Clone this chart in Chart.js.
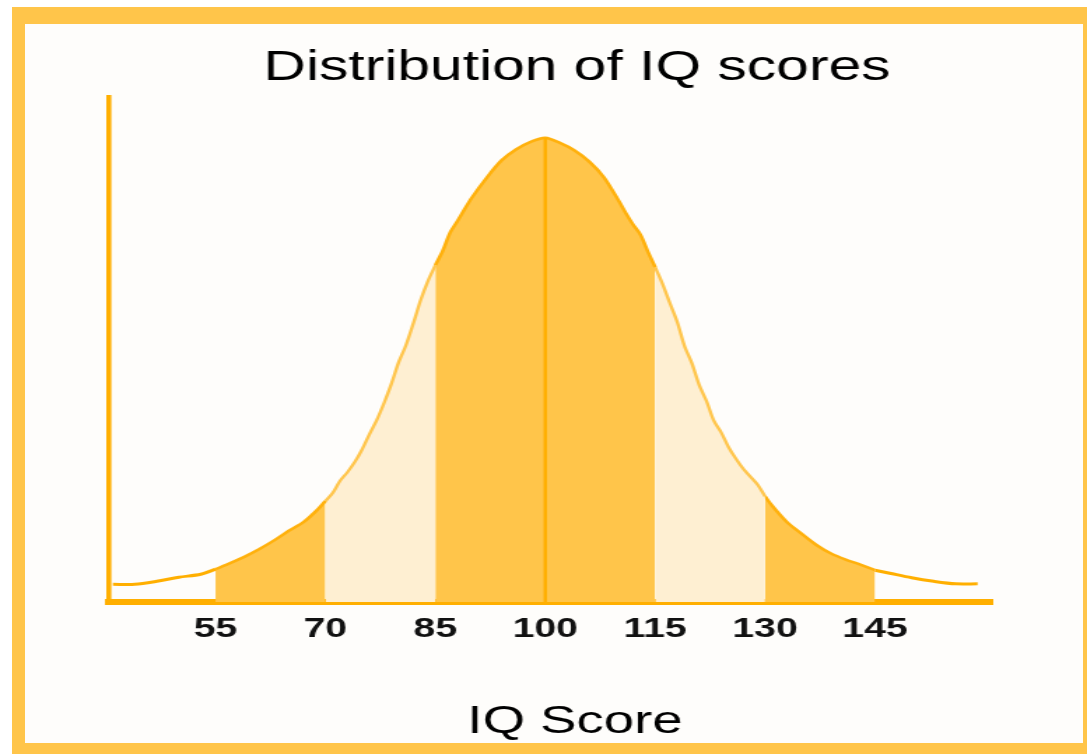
<!DOCTYPE html>
<html>
<head>
<meta charset="utf-8">
<title>Distribution of IQ scores</title>
<script src="https://cdn.jsdelivr.net/npm/chart.js@4.4.0/dist/chart.umd.min.js"></script>
<style>
  html, body { margin: 0; padding: 0; background: #fff; overflow: hidden; }
  body { width: 1087px; height: 754px; position: relative; }
  #marco {
    position: absolute; left: 12px; top: 7px; width: 1084px; height: 749px;
    box-sizing: border-box; background: #fefdfb;
    border: 13px solid #ffc54a; border-top-width: 17px;
  }
  /* la imagen original esta estirada a lo ancho, se estira igual */
  #lienzo {
    position: absolute; left: 0; top: 0; width: 777px; height: 754px;
    transform: scaleX(1.399); transform-origin: 0 0;
  }
</style>
</head>
<body>
<div id="marco"></div>
<div id="lienzo"><canvas id="grafico" width="777" height="754"></canvas></div>
<script>
// Datos
const titulo = 'Distribution of IQ scores';
const tituloEje = 'IQ Score';
const etiquetasX = [55, 70, 85, 100, 115, 130, 145];

const puntajes = [41, 44, 47, 50, 53, 55, 57, 59, 61, 63, 65, 67, 69, 70, 71,
  72, 73, 74, 75, 76, 77, 78, 79, 80, 81, 82, 83, 84, 85, 86,
  87, 88, 89, 90, 92, 94, 96, 98, 100, 102, 104, 106, 108, 110, 111,
  112, 113, 114, 115, 116, 117, 118, 119, 120, 121, 122, 123, 124, 125, 126,
  127, 128, 129, 130, 131, 133, 135, 137, 139, 141, 143, 145, 147, 150, 153,
  156, 159];
const frecuencia = [3.5, 3.5, 4.1, 4.9, 5.5, 6.5, 7.7, 9.0, 10.5, 12.2, 14.1, 15.8, 18.4, 20.0, 21.6,
  24.0, 25.7, 27.7, 30.2, 33.2, 36.0, 39.4, 43.2, 47.5, 50.9, 55.2, 59.8, 63.6, 66.7, 69.5,
  73.1, 75.4, 77.8, 80.1, 84.0, 87.4, 89.6, 91.1, 91.9, 90.9, 89.4, 87.2, 84.1, 79.5, 77.0,
  74.7, 72.7, 69.4, 66.3, 63.0, 59.2, 55.5, 50.7, 47.3, 43.0, 39.8, 35.9, 33.6, 30.7, 28.4,
  26.4, 24.8, 23.2, 20.9, 19.0, 15.8, 13.5, 11.3, 9.6, 8.4, 7.4, 6.3, 5.7, 4.8, 4.1,
  3.6, 3.6];

// tramos: [desde, hasta, tipo]
const tramos = [
  [41, 55, 'cola'],
  [55, 70, 'fuerte'],
  [70, 85, 'claro'],
  [85, 115, 'fuerte'],
  [115, 130, 'claro'],
  [130, 145, 'fuerte'],
  [145, 159, 'cola']
];

const colores = {
  cola:   { fondo: 'rgba(0,0,0,0)', linea: '#ffaf00', ancho: 3 },
  fuerte: { fondo: '#ffc54a', linea: '#ffb10d', ancho: 2.6 },
  claro:  { fondo: '#feefd2', linea: '#ffc64e', ancho: 2.4 }
};

const ESTIRA = 1.399;   // estiramiento horizontal de la imagen
const FUENTE = '"Liberation Sans", Arial, sans-serif';

function puntosEntre(a, b) {
  const pts = [];
  puntajes.forEach((p, i) => {
    if (p >= a && p <= b) pts.push({ x: p, y: frecuencia[i] });
  });
  return pts;
}

const datasets = tramos.map(([a, b, tipo]) => ({
  data: puntosEntre(a, b),
  borderColor: colores[tipo].linea,
  backgroundColor: colores[tipo].fondo,
  borderWidth: colores[tipo].ancho,
  fill: tipo === 'cola' ? false : 'origin',
  pointRadius: 0,
  tension: 0.3
}));

// linea de la media (order -1 para que quede encima del relleno)
const pico = frecuencia[puntajes.indexOf(100)];
datasets.push({
  data: [{ x: 100, y: 0 }, { x: 100, y: pico }],
  borderColor: '#ffaf00',
  borderWidth: 2.4,
  fill: false,
  pointRadius: 0,
  order: -1
});

const textos = {
  id: 'textos',
  afterDraw(chart) {
    const ctx = chart.ctx;
    ctx.save();
    ctx.fillStyle = '#000';
    ctx.textAlign = 'center';
    ctx.textBaseline = 'alphabetic';
    ctx.font = '42px ' + FUENTE;
    ctx.fillText(titulo, 577 / ESTIRA, 80);
    ctx.font = '39px ' + FUENTE;
    ctx.fillText(tituloEje, 575 / ESTIRA, 733);
    ctx.restore();
  }
};

new Chart(document.getElementById('grafico'), {
  type: 'line',
  data: { datasets },
  options: {
    responsive: false,
    animation: false,
    layout: { padding: { left: 108.5 / ESTIRA, right: 777 - 993 / ESTIRA, top: 97, bottom: 102 } },
    plugins: {
      legend: { display: false },
      tooltip: { enabled: false }
    },
    scales: {
      x: {
        type: 'linear',
        min: 40.4,
        max: 161.1,
        z: 1,
        afterBuildTicks: s => { s.ticks = etiquetasX.map(v => ({ value: v })); },
        afterFit: s => { s.height = 50; },
        grid: { display: false, drawTicks: false },
        border: { display: true, color: '#ffaf00', width: 6 },
        ticks: {
          autoSkip: false,
          maxRotation: 0,
          padding: 10,
          color: '#111',
          font: { family: FUENTE, size: 28, weight: 'bold' }
        }
      },
      y: {
        min: 0,
        max: 100,
        z: 1,
        afterFit: s => { s.width = 0; },
        grid: { display: false, drawTicks: false },
        border: { display: true, color: '#ffaf00', width: 3.6 },
        ticks: { display: false }
      }
    }
  },
  plugins: [textos]
});
</script>
</body>
</html>
